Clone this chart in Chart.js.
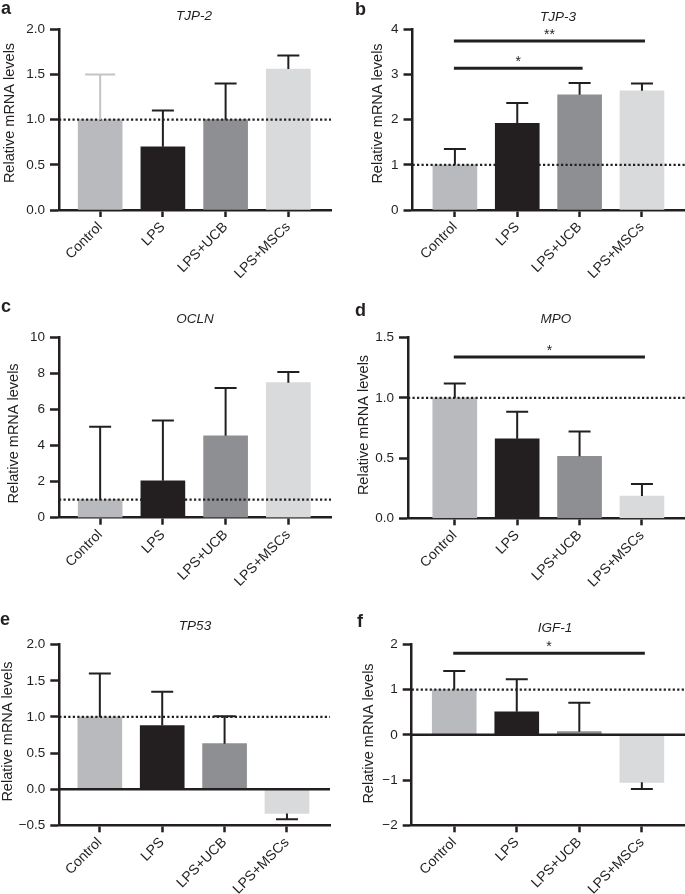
<!DOCTYPE html>
<html>
<head>
<meta charset="utf-8">
<script src="https://cdn.jsdelivr.net/npm/chart.js@4.4.1/dist/chart.umd.min.js"></script>
<style>
  body { margin: 0; background: #fff; width: 685px; height: 894px; position: relative; overflow: hidden; }
  canvas { position: absolute; }
</style>
</head>
<body>
<script>
// groups on the x axis
const categories = ['Control', 'LPS', 'LPS+UCB', 'LPS+MSCs'];

// mean values and upper (or outward) error per gene
const tjp2Mean = [1.0, 0.70, 1.0, 1.56];
const tjp2Err  = [0.50, 0.40, 0.40, 0.15];
const tjp3Mean = [1.0, 1.92, 2.55, 2.64];
const tjp3Err  = [0.35, 0.45, 0.26, 0.16];
const oclnMean = [1.0, 2.05, 4.55, 7.5];
const oclnErr  = [4.05, 3.35, 2.65, 0.6];
const mpoMean  = [1.0, 0.66, 0.515, 0.185];
const mpoErr   = [0.12, 0.225, 0.205, 0.10];
const tp53Mean = [1.0, 0.88, 0.63, -0.335];
const tp53Err  = [0.60, 0.47, 0.38, 0.08];
const igf1Mean = [1.0, 0.51, 0.07, -1.05];
const igf1Err  = [0.41, 0.72, 0.64, 0.15];

// y tick values
const tjp2Ticks = [0, 0.5, 1, 1.5, 2];
const tjp3Ticks = [0, 1, 2, 3, 4];
const oclnTicks = [0, 2, 4, 6, 8, 10];
const mpoTicks  = [0, 0.5, 1, 1.5];
const tp53Ticks = [-0.5, 0, 0.5, 1, 1.5, 2];
const igf1Ticks = [-2, -1, 0, 1, 2];

// significance brackets: from group, to group, height, mark
const tjp3Sig = [{ from: 0, to: 2, y: 3.14, mark: '*' }, { from: 0, to: 3, y: 3.74, mark: '**' }];
const mpoSig  = [{ from: 0, to: 3, y: 1.34, mark: '*' }];
const igf1Sig = [{ from: 0, to: 3, y: 1.80, mark: '*' }];

const barColors = ['#b9babd', '#231f20', '#8e8f92', '#d9dadb'];
const ink = '#231f20';
const FONT = '"Liberation Sans", Arial, Helvetica, sans-serif';

const panels = [
  { letter: 'a', title: 'TJP-2', mean: tjp2Mean, err: tjp2Err, ticks: tjp2Ticks, dec: 1, sig: [],
    box: [0, 0, 342, 297], plot: [59, 29.3, 331, 210], xr: [-0.656, 3.68],
    letterPos: [1, 14], titlePos: [194, 19.5], yTitle: [9.5, 113],
    errColors: ['#c3c4c6', ink, ink, ink], capW: [30, 22, 22, 22] },
  { letter: 'b', title: 'TJP-3', mean: tjp3Mean, err: tjp3Err, ticks: tjp3Ticks, dec: 0, sig: tjp3Sig,
    box: [342, 0, 343, 297], plot: [412.5, 29.3, 685, 210], xr: [-0.68, 3.69],
    letterPos: [355, 15], titlePos: [558, 20.5], yTitle: [377.5, 113.5] },
  { letter: 'c', title: 'OCLN', mean: oclnMean, err: oclnErr, ticks: oclnTicks, dec: 0, sig: [],
    box: [0, 297, 342, 297], plot: [59, 337.7, 331, 517.7], xr: [-0.656, 3.68],
    letterPos: [1, 312], titlePos: [195, 323], yTitle: [13.5, 433.5] },
  { letter: 'd', title: 'MPO', mean: mpoMean, err: mpoErr, ticks: mpoTicks, dec: 1, sig: mpoSig,
    box: [342, 297, 343, 297], plot: [408, 337.7, 685, 518.3], xr: [-0.75, 3.69],
    letterPos: [355, 316], titlePos: [556, 323], yTitle: [364, 425] },
  { letter: 'e', title: 'TP53', mean: tp53Mean, err: tp53Err, ticks: tp53Ticks, dec: 1, sig: [],
    box: [0, 594, 342, 300], plot: [59.3, 644.7, 330, 825.3], xr: [-0.65, 3.69],
    letterPos: [0, 625], titlePos: [195, 630], yTitle: [7.5, 731.5] },
  { letter: 'f', title: 'IGF-1', mean: igf1Mean, err: igf1Err, ticks: igf1Ticks, dec: 0, sig: igf1Sig,
    box: [342, 594, 343, 300], plot: [411.7, 644.3, 685, 825.3], xr: [-0.68, 3.69],
    letterPos: [357, 627], titlePos: [555, 632], yTitle: [369, 733.5] }
];

const overlay = {
  id: 'overlay',
  afterDatasetsDraw(chart, args, opts) {
    const p = opts.panel;
    const ctx = chart.ctx;
    const xs = chart.scales.x, ys = chart.scales.y;
    const area = chart.chartArea;
    const ox = p.box[0], oy = p.box[1];
    ctx.save();

    // zero line when the axis goes below 0
    if (ys.min < 0) {
      const y0 = ys.getPixelForValue(0);
      ctx.strokeStyle = ink;
      ctx.lineWidth = 2.5;
      ctx.beginPath();
      ctx.moveTo(area.left, y0);
      ctx.lineTo(area.right, y0);
      ctx.stroke();
    }

    // dotted reference at 1
    const yr = ys.getPixelForValue(1);
    ctx.strokeStyle = ink;
    ctx.lineWidth = 2.3;
    ctx.setLineDash([2.2, 2.3]);
    ctx.beginPath();
    ctx.moveTo(area.left, yr);
    ctx.lineTo(area.right, yr);
    ctx.stroke();
    ctx.setLineDash([]);

    // error bars, one sided
    p.mean.forEach((m, i) => {
      const dir = m < 0 ? -1 : 1;
      const cx = xs.getPixelForValue(i);
      const y1 = ys.getPixelForValue(m);
      const y2 = ys.getPixelForValue(m + dir * p.err[i]);
      const cap = (p.capW ? p.capW[i] : 22) / 2;
      ctx.strokeStyle = p.errColors ? p.errColors[i] : ink;
      ctx.lineWidth = 2;
      ctx.beginPath();
      ctx.moveTo(cx, y1);
      ctx.lineTo(cx, y2);
      ctx.moveTo(cx - cap, y2);
      ctx.lineTo(cx + cap, y2);
      ctx.stroke();
    });

    // significance lines
    p.sig.forEach(s => {
      const y = ys.getPixelForValue(s.y);
      const x1 = xs.getPixelForValue(s.from) - 1;
      const x2 = xs.getPixelForValue(s.to) + 3;
      ctx.strokeStyle = ink;
      ctx.lineWidth = 3;
      ctx.beginPath();
      ctx.moveTo(x1, y);
      ctx.lineTo(x2, y);
      ctx.stroke();
      ctx.fillStyle = ink;
      ctx.font = '14px ' + FONT;
      ctx.textAlign = 'center';
      ctx.textBaseline = 'alphabetic';
      ctx.fillText(s.mark, (x1 + x2) / 2, y - 2);
    });

    // panel letter, gene title, y title
    ctx.fillStyle = ink;
    ctx.textBaseline = 'alphabetic';
    ctx.textAlign = 'left';
    ctx.font = 'bold 18px ' + FONT;
    ctx.fillText(p.letter, p.letterPos[0] - ox, p.letterPos[1] - oy);
    ctx.textAlign = 'center';
    ctx.font = 'italic 13.5px ' + FONT;
    ctx.fillText(p.title, p.titlePos[0] - ox, p.titlePos[1] - oy);

    ctx.translate(p.yTitle[0] - ox, p.yTitle[1] - oy);
    ctx.rotate(-Math.PI / 2);
    ctx.font = '14.5px ' + FONT;
    ctx.textBaseline = 'middle';
    ctx.fillText('Relative mRNA levels', 0, 0);
    ctx.restore();
  }
};

panels.forEach(p => {
  const [bx, by, bw, bh] = p.box;
  const [pl, pt, pr, pb] = p.plot;
  const canvas = document.createElement('canvas');
  canvas.width = bw;
  canvas.height = bh;
  canvas.style.left = bx + 'px';
  canvas.style.top = by + 'px';
  canvas.style.width = bw + 'px';
  canvas.style.height = bh + 'px';
  document.body.appendChild(canvas);

  new Chart(canvas.getContext('2d'), {
    type: 'bar',
    data: {
      datasets: [{
        data: p.mean.map((v, i) => ({ x: i, y: v })),
        backgroundColor: barColors,
        borderWidth: 0,
        barThickness: 44
      }]
    },
    options: {
      responsive: false,
      animation: false,
      devicePixelRatio: 1,
      layout: { padding: { left: 0, top: pt - by, right: (bx + bw) - pr, bottom: 0 } },
      plugins: { legend: { display: false }, tooltip: { enabled: false }, overlay: { panel: p } },
      scales: {
        x: {
          type: 'linear',
          min: p.xr[0],
          max: p.xr[1],
          offset: false,
          afterBuildTicks: s => { s.ticks = categories.map((c, i) => ({ value: i })); },
          afterFit: s => { s.height = (by + bh) - pb; },
          border: { color: ink, width: 2.5 },
          grid: { offset: false, drawOnChartArea: false, drawTicks: true, tickLength: 7, tickColor: ink, tickWidth: 2.5 },
          ticks: {
            autoSkip: false,
            minRotation: 45,
            maxRotation: 45,
            padding: 2,
            color: ink,
            font: { family: FONT, size: 14 },
            callback: v => categories[v]
          }
        },
        y: {
          min: p.ticks[0],
          max: p.ticks[p.ticks.length - 1],
          afterBuildTicks: s => { s.ticks = p.ticks.map(v => ({ value: v })); },
          afterFit: s => { s.width = pl - bx; },
          border: { color: ink, width: 2.5 },
          grid: { drawOnChartArea: false, drawTicks: true, tickLength: 9, tickColor: ink, tickWidth: 2.5 },
          ticks: {
            padding: 5,
            color: ink,
            font: { family: FONT, size: 13.5 },
            callback: v => v.toFixed(p.dec).replace('-', '\u2212')
          }
        }
      }
    },
    plugins: [overlay]
  });
});
</script>
</body>
</html>
